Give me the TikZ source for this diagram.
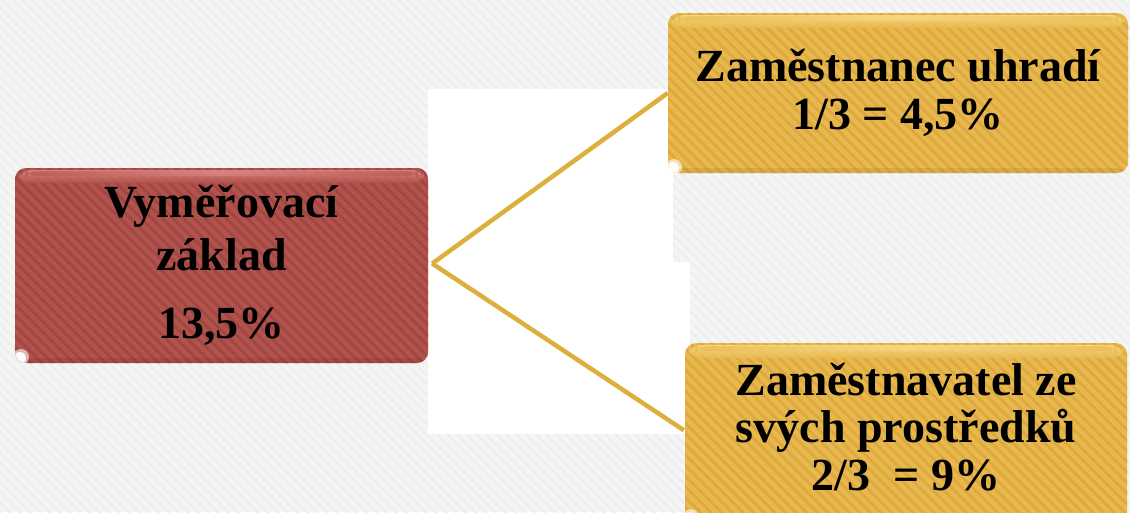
\documentclass[tikz,border=0pt]{standalone}
\usepackage{fontspec}
\setmainfont{Liberation Serif}
\usetikzlibrary{calc,patterns.meta}

\definecolor{paper}{HTML}{F5F5F5}
\definecolor{paperline}{HTML}{EEEEEE}
\definecolor{brick}{HTML}{B0524D}
\definecolor{brickdark}{HTML}{A3463F}
\definecolor{brickglow}{HTML}{DE8A85}
\definecolor{amber}{HTML}{E8B84C}
\definecolor{amberdark}{HTML}{DCA940}
\definecolor{amberglow}{HTML}{F8DA86}
\definecolor{link}{HTML}{DDB03E}

\tikzset{
  glossy/.style n args={3}{
    rounded corners=11pt, fill=#1, inner sep=0pt, align=center,
    font=\bfseries\fontsize{46}{48}\selectfont,
    path picture={
      % diagonal satin stripes
      \fill[pattern={Lines[angle=-45,distance=7.5pt,line width=2.6pt]}, pattern color=#2]
        (path picture bounding box.south west) rectangle (path picture bounding box.north east);
      % soft bright band along the top edge
      \shade[top color=#3, bottom color=#1, opacity=0.85]
        ($(path picture bounding box.north west)+(4,2)$) rectangle
        ($(path picture bounding box.north east)+(-4,15)$);
      \shade[left color=#1, right color=#1, middle color=#3, opacity=0.6]
        ($(path picture bounding box.north west)+(10,3)$) rectangle
        ($(path picture bounding box.north east)+(-10,8)$);
      % soft shadow along the bottom edge
      \fill[black, opacity=0.07]
        ($(path picture bounding box.south west)+(0,-5)$) rectangle
        (path picture bounding box.south east);
      % glint in the lower left corner
      \fill[white, opacity=0.6]
        ($(path picture bounding box.south west)+(6,-6)$) circle (8pt);
      \fill[white, opacity=0.95]
        ($(path picture bounding box.south west)+(5,-5)$) circle (6pt);
    }
  },
  basebox/.style={glossy={brick}{brickdark}{brickglow}},
  sharebox/.style={glossy={amber}{amberdark}{amberglow}},
  branch/.style={draw=link, line width=4.5pt}
}

\begin{document}
\begin{tikzpicture}[x=1pt,y=-1pt]
  \useasboundingbox (0,0) rectangle (1130,512);
  % textured backdrop
  \fill[paper] (0,0) rectangle (1130,512);
  \fill[pattern={Lines[angle=-45,distance=7pt,line width=2pt]}, pattern color=paperline]
    (0,0) rectangle (1130,512);
  \fill[white] (428,89) rectangle (673,262);
  \fill[white] (428,262) rectangle (690,434);

  % boxes
  \node[basebox, minimum width=413pt, minimum height=195pt] (base) at (221.5,265.5) {};
  \node[font=\bfseries\fontsize{46}{53}\selectfont, align=center, anchor=base]
    (basetext) at (221.5,338) {Vyměřovací\\ základ\\[15pt] 13,5\%};
  \node[sharebox, minimum width=460pt, minimum height=160pt] (emp) at (898,93)
    {Zaměstnanec uhradí\\ 1/3 = 4,5\%};
  \node[sharebox, minimum width=442pt, minimum height=180pt, anchor=north]
    (firm) at (906,343) {};
  \node[font=\bfseries\fontsize{46}{47.5}\selectfont, align=center, anchor=base]
    (firmtext) at (906,490) {Zaměstnavatel ze\\ svých prostředků\\ 2/3~~= 9\%};

  % connectors
  \coordinate (fork) at ($(base.east)+(4,-2)$);
  \draw[branch] (fork) -- (emp.west);
  \draw[branch] (fork) -- ($(firm.west)+(-1,-3)$);
\end{tikzpicture}
\end{document}
